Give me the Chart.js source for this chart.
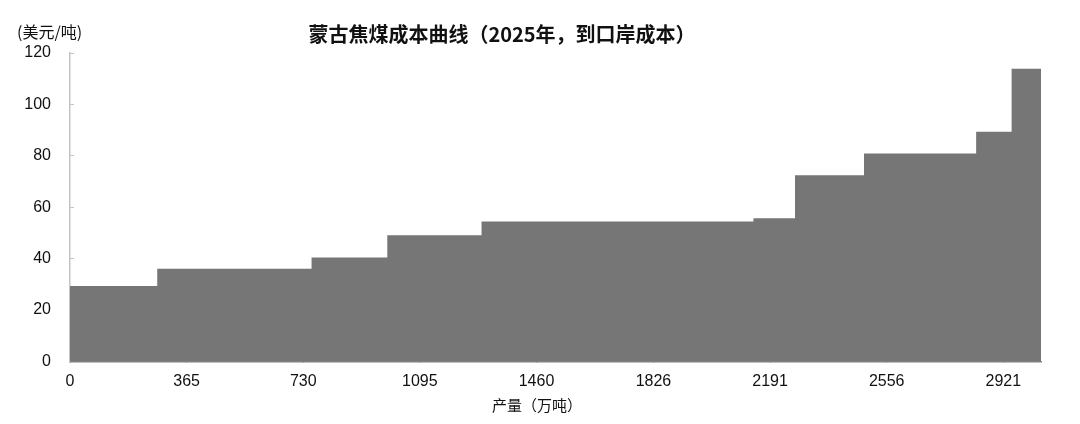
<!DOCTYPE html>
<html>
<head>
<meta charset="utf-8">
<script src="https://cdn.jsdelivr.net/npm/chart.js@4.4.1/dist/chart.umd.min.js"></script>
<style>
    body { margin: 0; background: #ffffff; }
    #wrap { width: 1080px; height: 424px; }
</style>
</head>
<body>
<div id="wrap"><canvas id="costChart" width="1080" height="424"></canvas></div>
<script>
// Mongolian coking coal cost curve data
const capacity = [273, 483, 237, 295, 851, 130, 216, 351, 111, 92];   // 万吨, width of each step
const cost = [29.4, 36.1, 40.5, 49.1, 54.5, 55.7, 72.4, 80.9, 89.4, 113.9]; // 美元/吨
const xTicks = [0, 365, 730, 1095, 1460, 1826, 2191, 2556, 2921];
const yTicks = [0, 20, 40, 60, 80, 100, 120];

const titleText = '蒙古焦煤成本曲线（2025年，到口岸成本）';
const unitText = '(美元/吨)';
const xTitleText = '产量（万吨）';

const latin = "'Liberation Sans', Arial, 'Noto Sans CJK SC', sans-serif";
const cjk = "'Noto Sans CJK SC', 'Liberation Sans', sans-serif";

// build step points: start of each block, plus the end of the last one
let total = 0;
const points = [];
capacity.forEach((w, i) => {
    points.push({ x: total, y: cost[i] });
    total += w;
});
points.push({ x: total, y: cost[cost.length - 1] });

// extra texts drawn straight on the canvas
const textPlugin = {
    id: 'texts',
    afterDraw(chart) {
        const c = chart.ctx;
        c.save();
        c.fillStyle = '#111111';
        c.textBaseline = 'middle';
        c.textAlign = 'center';
        c.font = 'bold 20px ' + cjk;
        c.fillText(titleText, 502, 34);
        c.font = '16px ' + cjk;
        c.textAlign = 'left';
        c.fillText(unitText, 17, 32);
        c.font = '15px ' + cjk;
        c.textAlign = 'center';
        c.fillText(xTitleText, 537, 405);
        c.restore();
    }
};

const ctx = document.getElementById('costChart');
const costChart = new Chart(ctx, {
    type: 'line',
    data: {
        datasets: [{
            data: points,
            stepped: 'before',
            fill: 'origin',
            backgroundColor: '#767676',
            borderColor: '#767676',
            borderWidth: 0,
            pointRadius: 0
        }]
    },
    options: {
        responsive: false,
        animation: false,
        layout: { padding: { top: 53, right: 39, left: 0, bottom: 0 } },
        plugins: {
            legend: { display: false },
            tooltip: { enabled: false },
            title: { display: false }
        },
        scales: {
            x: {
                type: 'linear',
                min: 0,
                max: total,
                afterBuildTicks: scale => {
                    scale.ticks = xTicks.map(v => ({ value: v }));
                },
                afterFit: scale => { scale.height = 62.5; },
                border: { color: '#808080', width: 1.5 },
                grid: { drawOnChartArea: false, tickLength: -4, color: '#808080' },
                ticks: {
                    color: '#111111',
                    font: { family: latin, size: 16 },
                    padding: 14,
                    maxRotation: 0,
                    autoSkip: false,
                    callback: v => String(v)
                }
            },
            y: {
                min: 0,
                max: 120,
                afterBuildTicks: scale => {
                    scale.ticks = yTicks.map(v => ({ value: v }));
                },
                afterFit: scale => { scale.width = 70; },
                border: { color: '#c4c4c4', width: 1.5 },
                grid: { drawOnChartArea: false, tickLength: -4, color: '#c4c4c4' },
                ticks: {
                    color: '#111111',
                    font: { family: latin, size: 16 },
                    padding: 23
                }
            }
        }
    },
    plugins: [textPlugin]
});

console.log('Cost chart drawn', total);
</script>
</body>
</html>
